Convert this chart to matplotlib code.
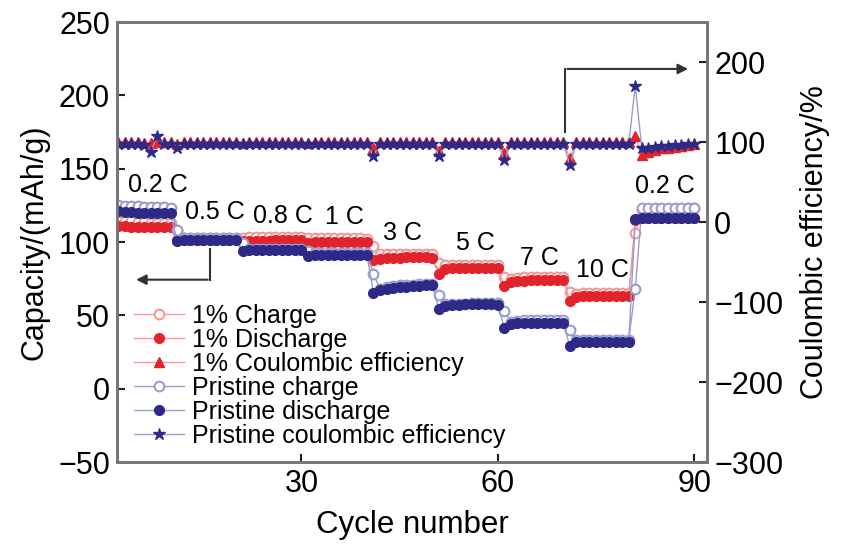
import numpy as np
import matplotlib
matplotlib.use('Agg')
import matplotlib.pyplot as plt
from matplotlib.lines import Line2D

plt.rcParams['font.family'] = ['Liberation Sans', 'DejaVu Sans']

cycles = np.arange(1, 91)

# capacity, mAh/g (left axis), 10 cycles per rate
doped_charge = [115, 114.5, 114, 114, 113.5, 113.5, 113, 113, 113, 113,
                108, 103, 103, 103, 103, 103, 103, 103, 103, 103,
                103, 103.5, 103.5, 103.5, 103.5, 103.5, 103.5, 103.5, 103.5, 103.5,
                102.5, 102.5, 102.5, 102.5, 102.5, 102.5, 102.5, 102.5, 102.5, 102,
                97, 91.5, 92, 92, 92, 92, 92, 92, 91.5, 91.5,
                86, 84, 84.5, 84.5, 84.5, 84.5, 84.5, 84.5, 84.5, 84.5,
                76, 75, 75.5, 76, 76, 76, 76, 76, 76, 76,
                66, 64.5, 65, 65, 65, 65, 65, 65, 65, 65,
                106, 122, 122.5, 122.5, 122.5, 122.5, 122.5, 122.5, 123, 123]
doped_discharge = [111, 111, 111, 110.5, 110.5, 110.5, 110.5, 110, 110, 110,
                   101.5, 101.5, 101.5, 101.5, 101.5, 101.5, 101.5, 101.5, 101.5, 101.5,
                   100.5, 101, 101, 101, 101, 101.5, 101.5, 101.5, 101.5, 101.5,
                   99.5, 100, 100, 100, 100, 100, 100, 100, 100, 100,
                   87.5, 88.5, 89, 89, 89, 89.5, 89.5, 89.5, 89.5, 89,
                   78.5, 81.5, 82, 82, 82, 82, 82.5, 82.5, 82.5, 82,
                   70, 73, 73.5, 73.5, 74, 74, 74, 74, 74, 74,
                   60, 62.5, 63, 63, 63, 63.5, 63.5, 63.5, 63.5, 63.5,
                   115, 116.5, 116.5, 116.5, 116.5, 116.5, 116.5, 116.5, 116.5, 116.5]
pristine_charge = [125, 125, 124.5, 124.5, 124.5, 124, 124, 124, 124, 123.5,
                   108, 102.5, 102.5, 102.5, 102.5, 102.5, 102.5, 102.5, 102.5, 102.5,
                   99, 95.5, 95.5, 95.5, 95.5, 95.5, 95.5, 95.5, 95.5, 95.5,
                   94, 92.5, 92.5, 92.5, 92.5, 92.5, 92.5, 92.5, 92.5, 92.5,
                   78, 68, 69.5, 70, 70.5, 71, 71, 71.5, 71.5, 71.5,
                   64, 57.5, 58, 58, 58, 58.5, 58.5, 58.5, 58.5, 58.5,
                   53, 45.5, 46, 46.5, 46.5, 46.5, 46.5, 46.5, 46.5, 46.5,
                   40, 33, 33.5, 33.5, 33.5, 33.5, 33.5, 33.5, 33.5, 33.5,
                   68, 123.5, 123.5, 123.5, 123.5, 123.5, 123.5, 123.5, 123.5, 123.5]
pristine_discharge = [121, 121, 120.5, 120.5, 120, 120, 120, 119.5, 119.5, 119.5,
                      101, 101.5, 101.5, 101.5, 101.5, 101.5, 101.5, 101.5, 101.5, 101.5,
                      94, 94.5, 94.5, 94.5, 94.5, 94.5, 94.5, 94.5, 94.5, 94.5,
                      90.5, 91, 91, 91, 91, 91, 91, 91, 91, 91,
                      65.5, 67, 68, 68.5, 69, 69.5, 70, 70, 70.5, 70.5,
                      54, 56.5, 57, 57, 57.5, 57.5, 57.5, 57.5, 57.5, 57,
                      41.5, 44, 44.5, 45, 45, 45, 45, 45, 45, 44.5,
                      29, 31.5, 32, 32, 32, 32, 32, 32, 32, 32,
                      115.5, 116.5, 116.5, 116.5, 116.5, 116.5, 116.5, 116.5, 116.5, 116.5]

# coulombic efficiency, % (right axis)
doped_ce = [100, 100, 100, 100, 100, 99, 99, 100, 100, 100,
            97, 100, 100, 100, 100, 100, 100, 100, 100, 100,
            99, 100, 100, 100, 100, 100, 100, 100, 100, 100,
            99, 100, 100, 100, 100, 100, 100, 100, 100, 100,
            93, 100, 100, 100, 100, 100, 100, 100, 100, 100,
            89, 100, 100, 100, 100, 100, 100, 100, 100, 100,
            86, 100, 100, 100, 100, 100, 100, 100, 100, 100,
            80, 100, 100, 100, 100, 100, 100, 100, 100, 100,
            108, 84, 88, 90, 92, 93, 94, 95, 96, 97]
pristine_ce = [98, 98, 98, 98, 98, 96, 88, 108, 98, 98,
               93, 98, 98, 98, 98, 98, 98, 98, 98, 98,
               97, 98, 98, 98, 98, 98, 98, 98, 98, 98,
               97, 98, 98, 98, 98, 98, 98, 98, 98, 98,
               83, 98, 98, 98, 98, 98, 98, 98, 98, 98,
               83, 98, 98, 98, 98, 98, 98, 98, 98, 98,
               78, 98, 98, 98, 98, 98, 98, 98, 98, 98,
               71, 98, 98, 98, 98, 98, 98, 98, 98, 98,
               170, 92, 93, 94, 95, 95, 96, 96, 97, 97]

rate_labels = ['0.2 C', '0.5 C', '0.8 C', '1 C', '3 C', '5 C', '7 C', '10 C', '0.2 C']
label_x = [8, 16.8, 27.2, 36.6, 45.5, 56.6, 66.4, 76, 85.5]
label_y = [139, 120.5, 118, 117, 106, 99, 89, 81, 138]

red = '#e3232b'
red_light = '#f29a9a'
blue = '#2d2a87'
blue_light = '#9b9bd0'

fig = plt.figure(figsize=(8.41, 5.5), dpi=100)
ax = fig.add_axes([0.139, 0.16, 0.702, 0.80])
ax2 = ax.twinx()

ms = 7
ax.plot(cycles, doped_charge, color=red_light, lw=1, marker='o', ms=ms, mfc='white', mec=red_light, mew=1.5, zorder=3)
ax.plot(cycles, doped_discharge, color=red_light, lw=1, marker='o', ms=ms, mfc=red, mec=red, zorder=4)
ax.plot(cycles, pristine_charge, color=blue_light, lw=1, marker='o', ms=ms, mfc='white', mec=blue_light, mew=1.5, zorder=5)
ax.plot(cycles, pristine_discharge, color=blue_light, lw=1, marker='o', ms=ms, mfc=blue, mec=blue, zorder=6)
ax2.plot(cycles, doped_ce, color=red_light, lw=1, marker='^', ms=7.5, mfc=red, mec=red)
ax2.plot(cycles, pristine_ce, color=blue_light, lw=1, marker='*', ms=9, mfc=blue, mec=blue)

for t, x, y in zip(rate_labels, label_x, label_y):
    ax.text(x, y, t, fontsize=18, ha='center', va='center', zorder=7)

# arrows pointing to the axes
ax.plot([16, 16], [95.4, 74.3], color='#333333', lw=1.5)
ax.annotate('', xy=(4.3, 74.3), xytext=(16.1, 74.3),
            arrowprops=dict(arrowstyle='-|>', color='#333333', lw=1.5, mutation_scale=15))
ax.plot([70.3, 70.3], [175, 218], color='#333333', lw=1.5)
ax.annotate('', xy=(89.5, 218), xytext=(70.2, 218),
            arrowprops=dict(arrowstyle='-|>', color='#333333', lw=1.5, mutation_scale=15))

ax.set_xlim(1.8, 92)
ax.set_ylim(-50, 250)
ax2.set_ylim(-300, 250)
ax.set_xticks([30, 60, 90])
ax.set_yticks(np.arange(-50, 251, 50))
ax2.set_yticks(np.arange(-300, 201, 100))

for a in (ax, ax2):
    a.tick_params(direction='in', labelsize=22, length=6, width=1.5, color='#222222', pad=5)
    for s in a.spines.values():
        s.set_color('#777777')
        s.set_linewidth(2)

ax.set_xlabel('Cycle number', fontsize=22.5, labelpad=8)
ax.set_ylabel('Capacity/(mAh/g)', fontsize=22, labelpad=6)
ax2.set_ylabel('Coulombic efficiency/%', fontsize=22, labelpad=12)

handles = [
    Line2D([], [], color=red_light, lw=1, marker='o', ms=ms, mfc='white', mec=red_light, mew=1.5),
    Line2D([], [], color=red_light, lw=1, marker='o', ms=ms, mfc=red, mec=red),
    Line2D([], [], color=red_light, lw=1, marker='^', ms=7.5, mfc=red, mec=red),
    Line2D([], [], color=blue_light, lw=1, marker='o', ms=ms, mfc='white', mec=blue_light, mew=1.5),
    Line2D([], [], color=blue_light, lw=1, marker='o', ms=ms, mfc=blue, mec=blue),
    Line2D([], [], color=blue_light, lw=1, marker='*', ms=9, mfc=blue, mec=blue),
]
labels = ['1% Charge', '1% Discharge', '1% Coulombic efficiency',
          'Pristine charge', 'Pristine discharge', 'Pristine coulombic efficiency']
leg = ax2.legend(handles, labels, loc='upper left', bbox_to_anchor=(0.0, 0.40),
                 frameon=False, fontsize=18, handlelength=2.0, handletextpad=0.3,
                 labelspacing=0.0, borderaxespad=0.3)
leg.set_zorder(10)

fig.savefig('out.png', dpi=100)
